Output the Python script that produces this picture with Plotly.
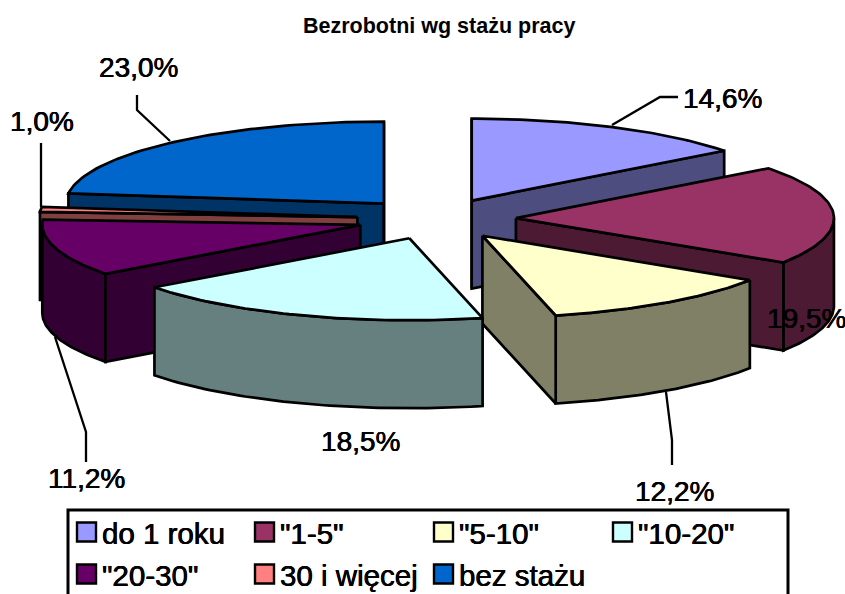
import math
import plotly.graph_objects as go

# Data
categories = ["do 1 roku", '"1-5"', '"5-10"', '"10-20"', '"20-30"', "30 i więcej", "bez stażu"]
values = [14.6, 19.5, 12.2, 18.5, 11.2, 1.0, 23.0]
value_labels = ["14,6%", "19,5%", "12,2%", "18,5%", "11,2%", "1,0%", "23,0%"]
top_colors = ["#9999FF", "#993366", "#FFFFCC", "#CCFFFF", "#660066", "#FF8080", "#0066CC"]
side_colors = ["#4D4D80", "#4D1A33", "#808066", "#668080", "#330033", "#804040", "#003366"]
title_text = "Bezrobotni wg stażu pracy"

# Pie projection (pixels)
CX, CY = 436.5, 219
RX, RY = 318, 82
DEPTH = 88
EXPLODE = 0.25
EDGE = 2.7
paint_order = [6, 0, 5, 4, 1, 2, 3]
FONT = "Liberation Sans, Arial, sans-serif"
HEAVY = "0.35px 0 0 black, -0.35px 0 0 black"

total = sum(values)
angles = [0.0]
for v in values:
    angles.append(angles[-1] + v / total * 2 * math.pi)


def ell(t):
    return RX * math.sin(t), -RY * math.cos(t)


def arc(cx, cy, t0, t1, dy=0, n=60):
    pts = []
    for i in range(n + 1):
        t = t0 + (t1 - t0) * i / n
        ex, ey = ell(t)
        pts.append((cx + ex, cy + ey + dy))
    return pts


fig = go.Figure()


def poly(pts, fill, name):
    xs = [p[0] for p in pts] + [pts[0][0]]
    ys = [p[1] for p in pts] + [pts[0][1]]
    fig.add_trace(go.Scatter(x=xs, y=ys, mode="lines", fill="toself", fillcolor=fill,
                             line=dict(color="black", width=EDGE), name=name,
                             showlegend=False, hoverinfo="name"))


for i in paint_order:
    t0, t1 = angles[i], angles[i + 1]
    mid = (t0 + t1) / 2
    ox, oy = ell(mid)
    cx, cy = CX + EXPLODE * ox, CY + EXPLODE * oy

    def radial(t):
        ex, ey = ell(t)
        p, q = (cx, cy), (cx + ex, cy + ey)
        poly([p, q, (q[0], q[1] + DEPTH), (p[0], p[1] + DEPTH)], side_colors[i], categories[i])

    # front part of the rim
    a0, a1 = max(t0, math.pi / 2), min(t1, 3 * math.pi / 2)
    if a1 > a0:
        poly(arc(cx, cy, a0, a1) + arc(cx, cy, a1, a0, DEPTH), side_colors[i], categories[i])
    # radial walls facing the viewer
    if math.sin(t0) < 1e-6:
        radial(t0)
    if math.sin(t1) > -1e-6:
        radial(t1)
    poly([(cx, cy)] + arc(cx, cy, t0, t1), top_colors[i], categories[i])

# Leader lines
leaders = [
    ([612, 660, 678], [125, 97, 97]),
    ([666, 672, 672], [392, 440, 465]),
    ([55, 86, 86], [337, 432, 462]),
    ([41, 41], [207, 143]),
    ([170, 137, 137], [141, 110, 95]),
]
for lx, ly in leaders:
    fig.add_trace(go.Scatter(x=lx, y=ly, mode="lines", line=dict(color="black", width=2.3),
                             showlegend=False, hoverinfo="skip"))

annotations = [dict(x=439, y=26, text="<b>" + title_text + "</b>", showarrow=False, xref="x", yref="y",
                    font=dict(family=FONT, size=21.5, color="black"))]
label_pos = [(722, 98), (806, 318), (674, 491), (360, 441), (86, 478), (42, 121), (138, 67)]
for txt, (lx, ly) in zip(value_labels, label_pos):
    annotations.append(dict(x=lx, y=ly, text=txt, showarrow=False, xref="x", yref="y",
                            font=dict(family=FONT, size=28, color="black", shadow=HEAVY)))

shapes = [dict(type="rect", x0=68, y0=510, x1=788, y1=640, xref="x", yref="y",
               line=dict(color="black", width=3), fillcolor="white", layer="below")]
cols = [77, 255, 434, 613]
rows = [532, 574]
for k, cat in enumerate(categories):
    sx, sy = cols[k % 4], rows[k // 4]
    shapes.append(dict(type="rect", x0=sx, x1=sx + 19, y0=sy - 9.5, y1=sy + 9.5, xref="x", yref="y",
                       fillcolor=top_colors[k], line=dict(color="black", width=2.4)))
    annotations.append(dict(x=sx + 23, y=sy + 1, text=cat, showarrow=False, xanchor="left", xref="x", yref="y",
                            font=dict(family=FONT, size=29.5, color="black", shadow=HEAVY)))

fig.update_layout(width=845, height=594, margin=dict(l=0, r=0, t=0, b=0),
                  paper_bgcolor="white", plot_bgcolor="white", showlegend=False,
                  xaxis=dict(range=[0, 845], visible=False, fixedrange=True),
                  yaxis=dict(range=[594, 0], visible=False, fixedrange=True),
                  shapes=shapes, annotations=annotations)

fig.write_html("out.html", config={"displayModeBar": False},
               post_script="document.body.style.margin='0';document.body.style.overflow='hidden';")
